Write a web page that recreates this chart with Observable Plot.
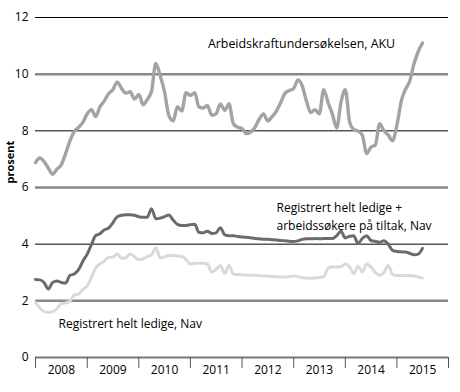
<!DOCTYPE html>
<html><head><meta charset="utf-8">
<script src="https://cdn.jsdelivr.net/npm/d3@7"></script>
<script src="https://cdn.jsdelivr.net/npm/@observablehq/plot@0.6"></script>
<style>
body{margin:0;background:#fff;}
#chart{position:absolute;left:0;top:0;}
</style>
</head><body><div id="chart"></div>
<script>
const firstMonth = "2008-01-01";
const aku = [6.88,7.04,6.92,6.68,6.47,6.65,6.8,7.2,7.65,7.97,8.12,8.3,8.6,8.75,8.5,8.85,9.05,9.31,9.45,9.72,9.5,9.33,9.38,9.12,9.28,8.92,9.1,9.4,10.38,9.95,9.4,8.55,8.35,8.85,8.7,9.35,9.25,9.35,8.85,8.8,8.9,8.55,8.6,8.95,8.72,8.95,8.25,8.13,8.08,7.9,7.95,8.12,8.4,8.6,8.35,8.5,8.7,9.0,9.33,9.42,9.5,9.8,9.6,9.05,8.65,8.75,8.6,9.45,9.0,8.6,8.1,9.0,9.45,8.3,8.05,7.99,7.85,7.2,7.42,7.5,8.25,8.0,7.85,7.65,8.2,9.05,9.45,9.75,10.35,10.8,11.1];
const navTiltak = [2.75,2.74,2.65,2.42,2.65,2.7,2.65,2.63,2.9,2.95,3.1,3.4,3.65,4.0,4.3,4.37,4.5,4.57,4.75,4.97,5.02,5.04,5.04,5.02,4.97,4.95,4.95,5.25,4.9,4.92,4.97,5.03,4.85,4.7,4.66,4.66,4.69,4.7,4.42,4.4,4.46,4.38,4.4,4.58,4.33,4.3,4.3,4.27,4.25,4.24,4.23,4.2,4.19,4.17,4.17,4.16,4.15,4.13,4.12,4.1,4.09,4.12,4.17,4.19,4.19,4.2,4.19,4.2,4.2,4.2,4.3,4.46,4.22,4.28,4.3,4.02,4.2,4.3,4.13,4.1,4.07,4.12,4.0,3.78,3.74,3.73,3.72,3.68,3.63,3.65,3.85];
const navLedige = [1.95,1.75,1.62,1.6,1.62,1.72,1.9,1.93,2.0,2.2,2.24,2.4,2.53,2.85,3.15,3.3,3.4,3.54,3.54,3.65,3.5,3.52,3.65,3.56,3.45,3.48,3.56,3.62,3.88,3.52,3.55,3.6,3.6,3.58,3.57,3.45,3.3,3.32,3.33,3.33,3.3,3.02,3.1,3.25,2.97,3.25,2.94,2.93,2.92,2.91,2.9,2.9,2.89,2.88,2.87,2.86,2.85,2.84,2.84,2.86,2.88,2.85,2.82,2.8,2.8,2.81,2.82,2.85,3.15,3.19,3.19,3.2,3.3,3.2,2.96,3.22,3.02,3.3,3.2,3.0,2.9,3.0,3.25,2.93,2.89,2.89,2.89,2.89,2.88,2.84,2.8];
const years = [2008,2009,2010,2011,2012,2013,2014,2015];
const yTicks = [0,2,4,6,8,10,12];
const blackGrid = [4,8,12];
const grayGrid = [2,6,10];
const labelAku = ["Arbeidskraftundersøkelsen, AKU"];
const labelTiltak = ["Registrert helt ledige +", "arbeidssøkere på tiltak, Nav"];
const labelLedige = ["Registrert helt ledige, Nav"];
const yTitle = "prosent";

const start = new Date(firstMonth);
const month = i => d3.utcMonth.offset(start, i);
const series = (vals, name) => vals.map((v, i) => ({date: month(i), value: v, name}));
const yearStarts = years.concat([years[years.length-1] + 1]).map(y => new Date(Date.UTC(y, 0, 1)));
const yearMids = years.map(y => new Date(Date.UTC(y, 6, 2)));

const font = "'Open Sans', sans-serif";
const chart = Plot.plot({
  width: 460, height: 392,
  marginLeft: 35, marginRight: 12, marginTop: 17, marginBottom: 35,
  style: {fontFamily: font, fontSize: "12px", color: "#000", background: "#fff"},
  x: {type: "utc", domain: [yearStarts[0], yearStarts[yearStarts.length-1]]},
  y: {domain: [0, 12]},
  marks: [
    Plot.ruleY(grayGrid, {stroke: "#888", strokeWidth: 2.5}),
    Plot.ruleY(blackGrid, {stroke: "#000", strokeWidth: 1}),
    Plot.ruleY([0], {stroke: "#777", strokeWidth: 2}),
    Plot.axisY({ticks: yTicks, tickSize: 0, tickPadding: 7, tickFormat: d => String(d), label: null, fontSize: 12}),
    Plot.axisX({ticks: yearStarts, tickSize: 11, tickFormat: () => "", stroke: "#555", label: null}),
    Plot.axisX({ticks: yearMids, tickSize: 0, tickPadding: 8, tickFormat: d => String(d.getUTCFullYear()), label: null, fontSize: 12}),
    Plot.text([yTitle], {y: () => 6.14, frameAnchor: "left", dx: -25, rotate: -90, fontWeight: "bold", fontSize: 11}),
    Plot.line(series(navLedige, "l"), {x: "date", y: "value", stroke: "#d9d9d9", strokeWidth: 3, curve: "monotone-x"}),
    Plot.line(series(navTiltak, "t"), {x: "date", y: "value", stroke: "#6b6b6b", strokeWidth: 3, curve: "monotone-x"}),
    Plot.line(series(aku, "a"), {x: "date", y: "value", stroke: "#a3a3a3", strokeWidth: 3.4, curve: "monotone-x"}),
    Plot.text(labelAku, {x: new Date(Date.UTC(2011, 4, 5)), y: 11.05, textAnchor: "start", fontSize: 12.4}),
    Plot.text(labelTiltak, {x: new Date(Date.UTC(2012, 8, 1)), y: (d, i) => 5.27 - i * 0.64, textAnchor: "start", fontSize: 12}),
    Plot.text(labelLedige, {x: new Date(Date.UTC(2008, 5, 12)), y: 1.19, textAnchor: "start", fontSize: 12})
  ]
});
document.getElementById("chart").appendChild(chart);
</script>
</body></html>
